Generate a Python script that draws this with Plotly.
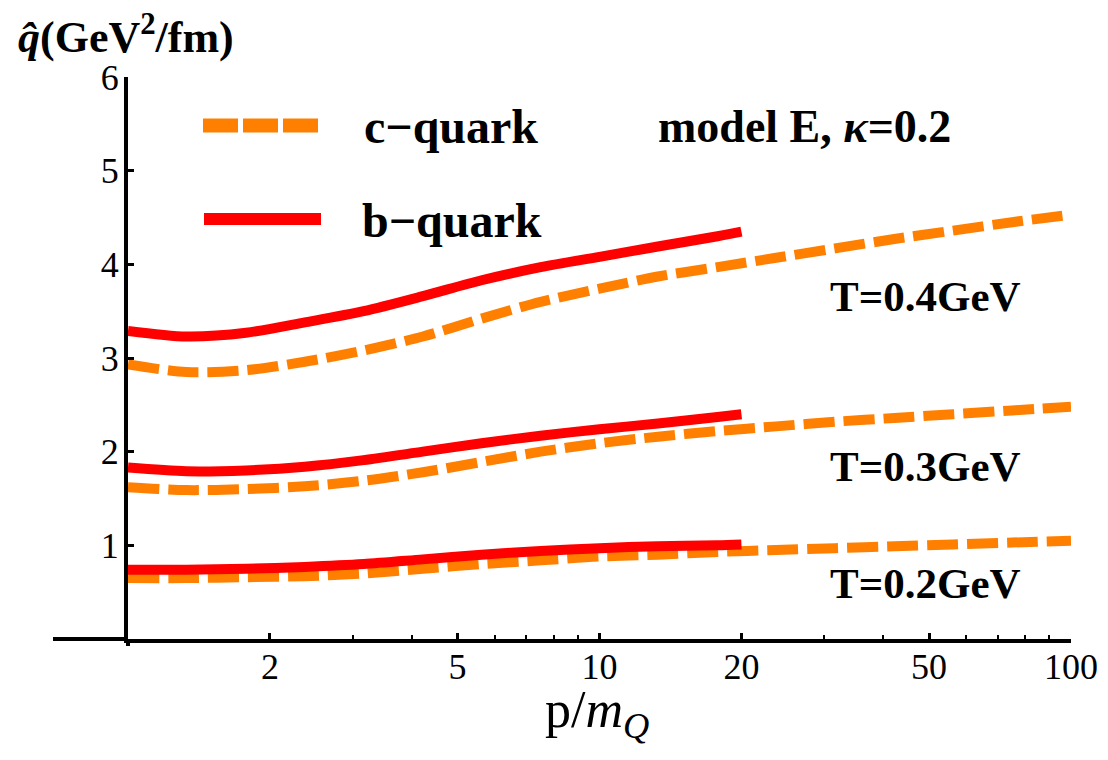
import plotly.graph_objects as go

# ---- data ----
x_b = [1, 1.33, 1.78, 2.37, 3.16, 4.22, 5.62, 7.5, 10, 13.3, 17.8, 20]
x_c = [1, 1.33, 1.78, 2.37, 3.16, 4.22, 5.62, 7.5, 10, 13.3, 17.8, 23.7, 31.6, 42.2, 56.2, 75, 100]

b_T04 = [3.29, 3.23, 3.27, 3.38, 3.50, 3.66, 3.83, 3.97, 4.08, 4.19, 4.30, 4.35]
c_T04 = [2.93, 2.85, 2.87, 2.96, 3.08, 3.23, 3.42, 3.60, 3.74, 3.87, 3.97, 4.07, 4.17, 4.27, 4.36, 4.45, 4.53]
b_T03 = [1.83, 1.79, 1.80, 1.84, 1.91, 2.00, 2.09, 2.17, 2.24, 2.30, 2.37, 2.40]
c_T03 = [1.62, 1.59, 1.60, 1.63, 1.69, 1.78, 1.89, 2.00, 2.09, 2.16, 2.22, 2.27, 2.32, 2.36, 2.40, 2.44, 2.48]
b_T02 = [0.74, 0.74, 0.75, 0.77, 0.80, 0.85, 0.90, 0.94, 0.97, 0.99, 1.00, 1.01]
c_T02 = [0.65, 0.65, 0.66, 0.67, 0.70, 0.75, 0.80, 0.84, 0.88, 0.90, 0.93, 0.95, 0.97, 0.99, 1.01, 1.03, 1.05]

x_tickvals = [2, 5, 10, 20, 50, 100]
x_ticktext = ["2", "5", "10", "20", "50", "100"]
x_minor = [3, 4, 6, 7, 8, 9, 30, 40, 60, 70, 80, 90]
y_tickvals = [1, 2, 3, 4, 5, 6]

temp_labels = ["T=0.4GeV", "T=0.3GeV", "T=0.2GeV"]

ORANGE = "#FF8000"
RED = "#FF0000"
SERIF = "Liberation Serif, Times New Roman, serif"

fig = go.Figure()

for ys in (c_T04, c_T03, c_T02):
    fig.add_trace(go.Scatter(x=x_c, y=ys, mode="lines",
                             line=dict(color=ORANGE, width=10, dash="31px,9px", shape="spline", smoothing=0.8),
                             showlegend=False, hoverinfo="skip"))
for ys in (b_T04, b_T03, b_T02):
    fig.add_trace(go.Scatter(x=x_b, y=ys, mode="lines",
                             line=dict(color=RED, width=10, shape="spline", smoothing=0.8),
                             showlegend=False, hoverinfo="skip"))

# The page body adds an 8px margin, so the figure is laid out in page
# coordinates shifted by that offset.
O = 8
W, H = 1100, 752
L, T = 128 - O, 77 - O
R = W - (1071 - O)
B = H - (639 - O)
pw, ph = W - L - R, H - T - B


def px(xp):
    return (xp - O - L) / pw


def py(yp):
    return (H - B - (yp - O)) / ph


shapes = [
    # x-axis stub to the left of the y-axis
    dict(type="line", xref="paper", yref="paper", x0=px(53), x1=0, y0=0, y1=0,
         line=dict(color="black", width=4)),
    # y-axis stub below the x-axis
    dict(type="line", xref="paper", yref="paper", x0=0, x1=0, y0=0, y1=py(646),
         line=dict(color="black", width=4)),
    # legend samples
    dict(type="line", xref="paper", yref="paper", x0=px(203), x1=px(318), y0=py(125.5), y1=py(125.5),
         line=dict(color=ORANGE, width=14, dash="35px,5px")),
    dict(type="line", xref="paper", yref="paper", x0=px(204), x1=px(321), y0=py(219), y1=py(219),
         line=dict(color=RED, width=12)),
]

big = dict(family=SERIF, size=48, color="black")
mid = dict(family=SERIF, size=43, color="black")

annotations = [
    dict(text="<b>c\u2212quark</b>", x=px(362), y=py(126), xref="paper", yref="paper",
         xanchor="left", yanchor="middle", showarrow=False, font=big),
    dict(text="<b>b\u2212quark</b>", x=px(360), y=py(220), xref="paper", yref="paper",
         xanchor="left", yanchor="middle", showarrow=False, font=big),
    dict(text="<b>model E, <i>\u03ba</i>=0.2</b>", x=px(656), y=py(126), xref="paper", yref="paper",
         xanchor="left", yanchor="middle", showarrow=False, font=dict(family=SERIF, size=46, color="black")),
    dict(text="<b>" + temp_labels[0] + "</b>", x=px(828), y=py(296), xref="paper", yref="paper",
         xanchor="left", yanchor="middle", showarrow=False, font=mid),
    dict(text="<b>" + temp_labels[1] + "</b>", x=px(828), y=py(466), xref="paper", yref="paper",
         xanchor="left", yanchor="middle", showarrow=False, font=mid),
    dict(text="<b>" + temp_labels[2] + "</b>", x=px(828), y=py(583), xref="paper", yref="paper",
         xanchor="left", yanchor="middle", showarrow=False, font=mid),
    # y-axis title
    dict(text="<b><i>q\u0302</i>(GeV<sup>2</sup>/fm)</b>", x=px(16), y=py(35), xref="paper", yref="paper",
         xanchor="left", yanchor="middle", showarrow=False, font=dict(family=SERIF, size=44, color="black")),
    # x-axis title
    dict(text="p/<i>m</i><sub><i>Q</i></sub>", x=px(597), y=py(713), xref="paper", yref="paper",
         xanchor="center", yanchor="middle", showarrow=False, font=dict(family=SERIF, size=52, color="black")),
]

fig.update_layout(
    width=W, height=H,
    margin=dict(l=L, r=R, t=T, b=B, pad=0, autoexpand=False),
    paper_bgcolor="white", plot_bgcolor="white",
    showlegend=False,
    shapes=shapes,
    annotations=annotations,
)

fig.update_xaxes(
    type="log", range=[0, 2], automargin=False,
    tickmode="array", tickvals=x_tickvals, ticktext=x_ticktext,
    ticks="inside", ticklen=6, tickwidth=3, tickcolor="black",
    minor=dict(tickmode="array", tickvals=x_minor, ticks="inside", ticklen=4, tickwidth=2, tickcolor="black"),
    showline=True, linewidth=4, linecolor="black",
    showgrid=False, zeroline=False,
    tickfont=dict(family=SERIF, size=36, color="black"),
    ticklabelstandoff=-7,
)
fig.update_yaxes(
    range=[0, 6], automargin=False,
    tickmode="array", tickvals=y_tickvals,
    ticks="inside", ticklen=6, tickwidth=3, tickcolor="black",
    showline=True, linewidth=4, linecolor="black",
    showgrid=False, zeroline=False,
    tickfont=dict(family=SERIF, size=36, color="black"),
    ticklabelstandoff=-2,
)

fig.write_html("out.html")
